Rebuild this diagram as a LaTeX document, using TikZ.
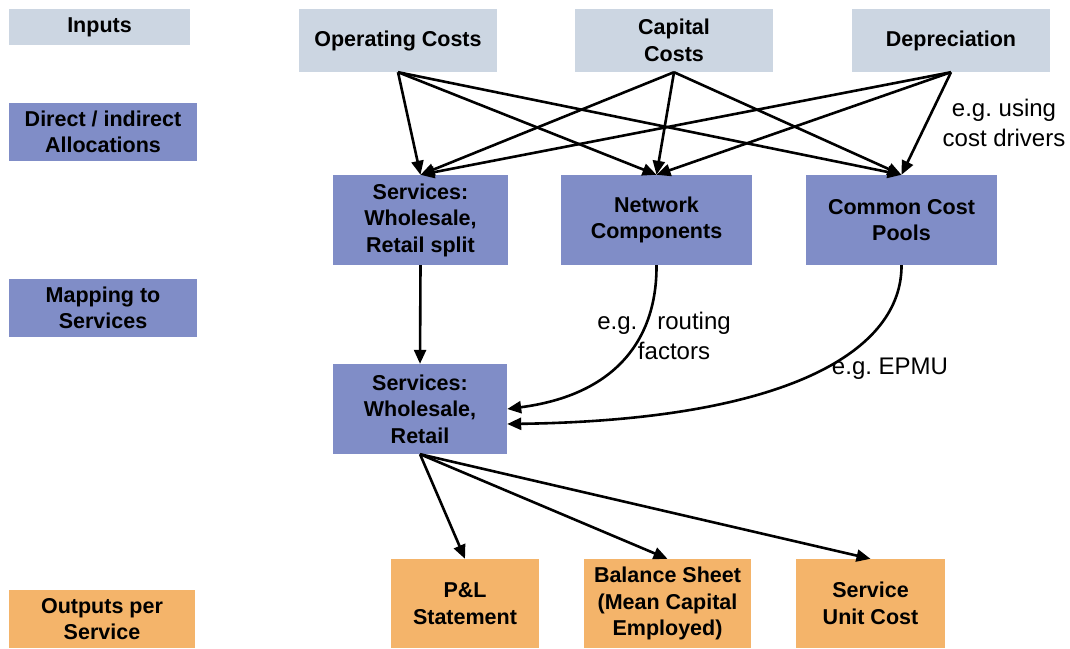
\documentclass[tikz,border=0pt]{standalone}
\usepackage{fontspec}
\setmainfont{Liberation Sans}
\usetikzlibrary{arrows.meta}
\definecolor{inlight}{RGB}{204,214,226}
\definecolor{midblue}{RGB}{128,141,199}
\definecolor{outorange}{RGB}{244,180,106}
\frenchspacing
\begin{document}
\begin{tikzpicture}[x=1pt,y=-1pt,
  box/.style={rectangle,inner sep=0pt,align=center,font=\fontsize{21.5}{26.5}\selectfont\bfseries},
  inbox/.style={box,fill=inlight},
  bluebox/.style={box,fill=midblue},
  orbox/.style={box,fill=outorange},
  lbl/.style={align=center,font=\fontsize{24}{30}\selectfont,inner sep=0pt},
  arr/.style={-{Triangle[length=14pt,width=12pt]},line width=2.6pt},
]
\useasboundingbox (0,0) rectangle (1070,648);
% left column
\node[inbox,minimum width=181pt,minimum height=36pt] (inputs) at (99.5,27) {Inputs};
\node[bluebox,minimum width=188pt,minimum height=58pt] (direct) at (103,132) {Direct / indirect\\Allocations};
\node[bluebox,minimum width=188pt,minimum height=58pt] (mapping) at (103,308) {Mapping to\\Services};
\node[orbox,minimum width=186pt,minimum height=58pt] (outputs) at (102,619) {Outputs per\\Service};
% top row
\node[inbox,minimum width=198pt,minimum height=63pt] (oc) at (398,40.5) {Operating Costs};
\node[inbox,minimum width=198pt,minimum height=63pt] (cc) at (674,40.5) {Capital\\Costs};
\node[inbox,minimum width=198pt,minimum height=63pt] (dep) at (951,40.5) {Depreciation};
% middle row
\node[bluebox,minimum width=175pt,minimum height=90pt] (ss) at (420.5,220) {Services:\\Wholesale,\\Retail split};
\node[bluebox,minimum width=191pt,minimum height=90pt] (nc) at (656.5,220) {Network\\Components};
\node[bluebox,minimum width=191pt,minimum height=90pt] (cp) at (901.5,220) {Common Cost\\Pools};
\node[bluebox,minimum width=174pt,minimum height=90pt] (swr) at (420,409) {Services:\\Wholesale,\\Retail};
% bottom row
\node[orbox,minimum width=148pt,minimum height=89pt] (pl) at (465,603.5) {P\&L\\Statement};
\node[orbox,minimum width=167pt,minimum height=89pt] (bs) at (667.5,603.5) {Balance Sheet\\(Mean Capital\\Employed)};
\node[orbox,minimum width=149pt,minimum height=89pt] (su) at (870.5,603.5) {Service\\Unit Cost};
% labels
\node[lbl] (lusing) at (1004,123) {e.g. using\\cost drivers};
\node[lbl] (lrouting) at (664,336) {e.g.\ \ \ routing\\\ \ \ factors};
\node[lbl] (lepmu) at (890,369) {e.g. EPMU};
% arrows from inputs
\foreach \s in {oc,cc,dep}{
  \foreach \t in {ss,nc,cp}{
    \draw[arr] (\s.south) -- (\t.north);
  }
}
\draw[arr] (ss.south) -- (swr.north);
\draw[arr] (nc.south) .. controls (657,340) and (615,395) .. (swr.east);
\draw[arr] (cp.south) .. controls (902,350) and (790,420) .. ([yshift=-15pt]swr.east);
\foreach \t in {pl,bs,su}{
  \draw[arr] (swr.south) -- (\t.north);
}
\end{tikzpicture}
\end{document}
